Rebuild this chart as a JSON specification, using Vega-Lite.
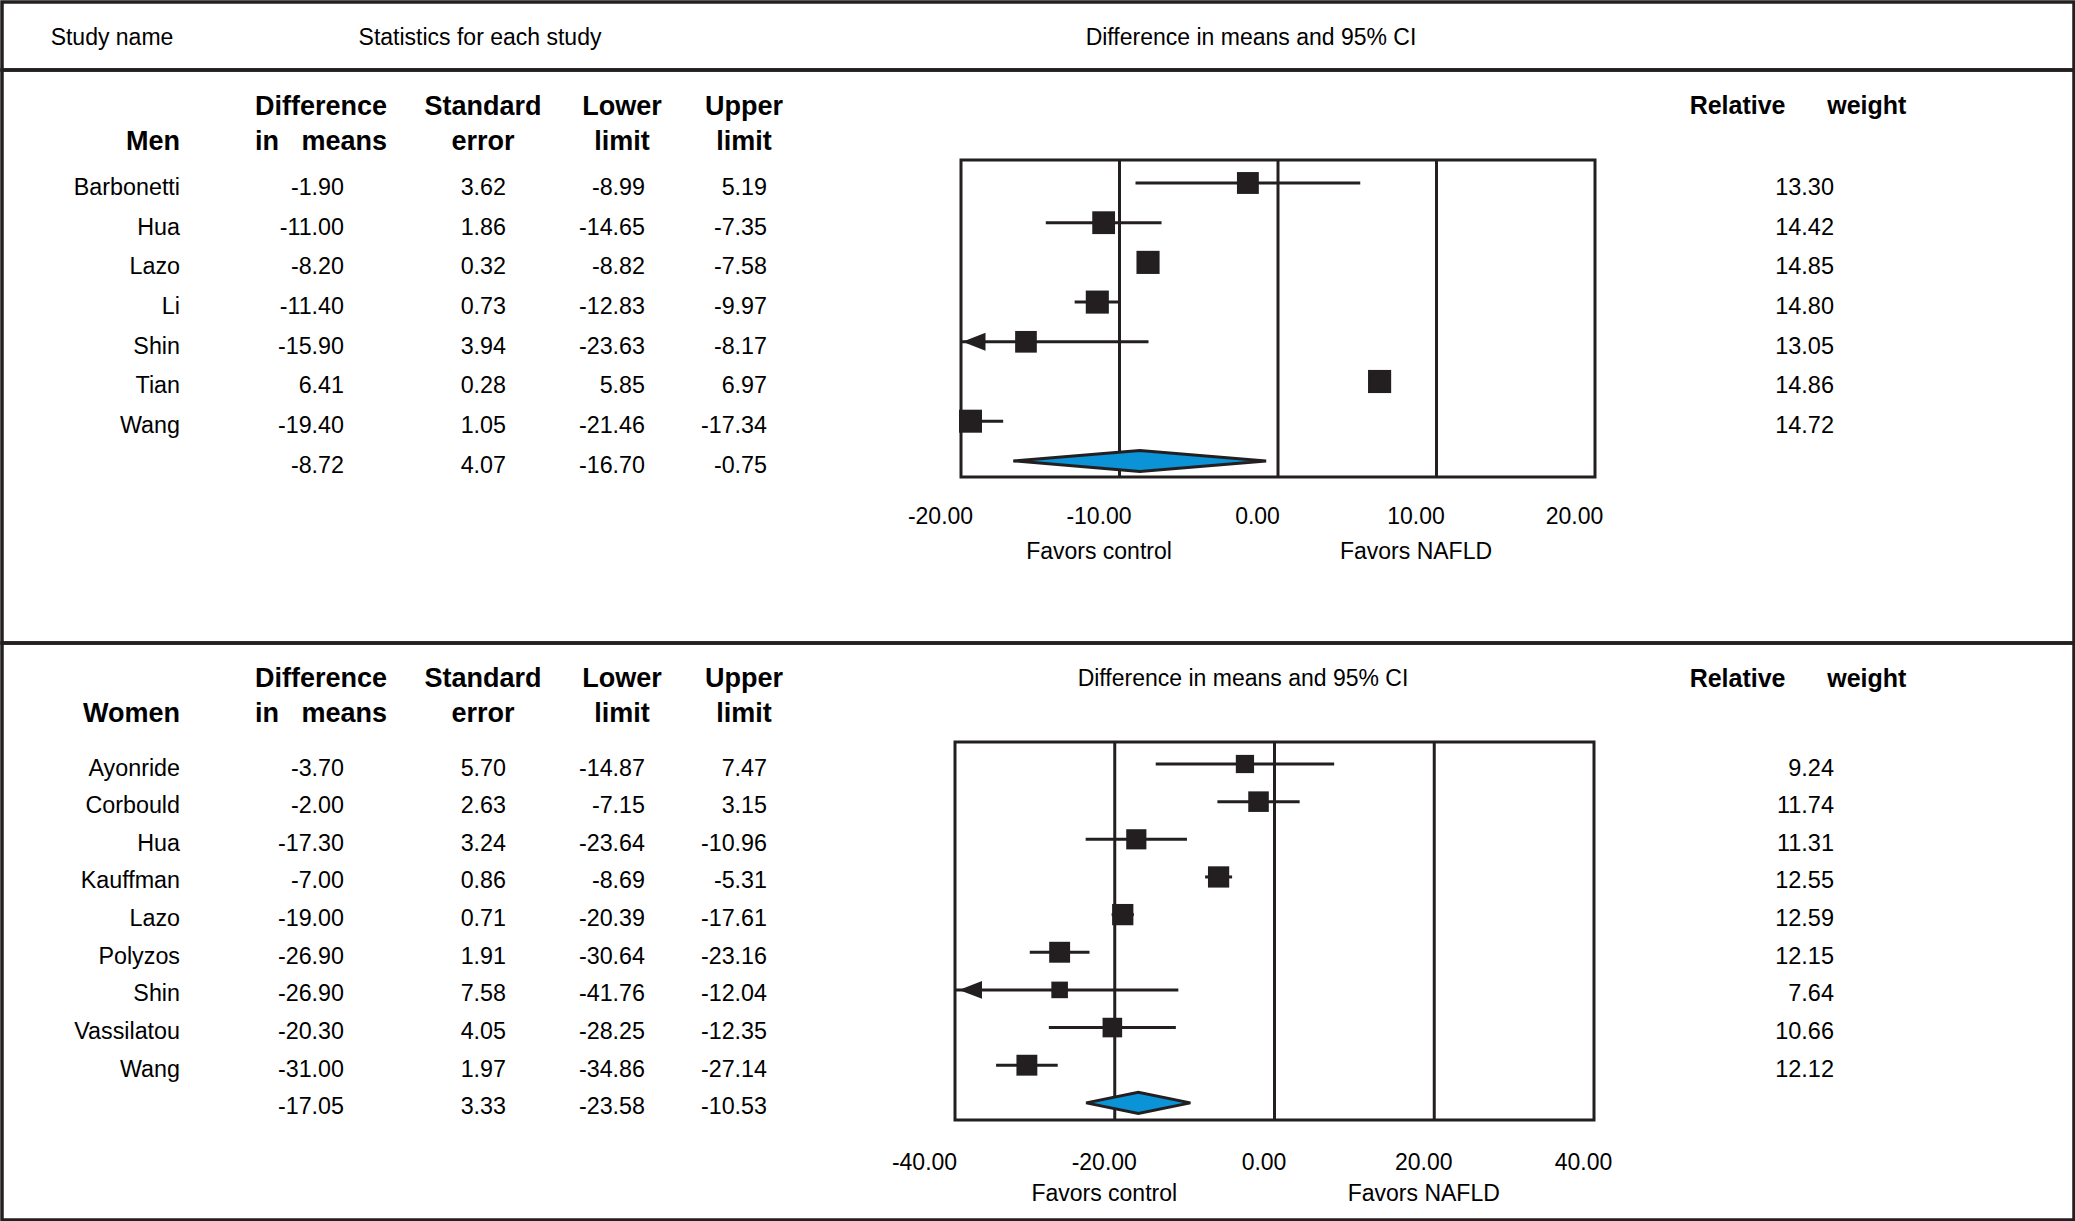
{
  "$schema": "https://vega.github.io/schema/vega-lite/v6.json",
  "padding": 0,
  "spacing": 0,
  "bounds": "flush",
  "background": "white",
  "config": {
    "view": {"stroke": "#231f20", "strokeWidth": 3.5},
    "locale": {"number": {"decimal": ".", "thousands": ",", "grouping": [3], "currency": ["$", ""], "minus": "-"}},
    "axis": {"grid": false}
  },
  "datasets": {
    "men": [
      {"study": "Barbonetti", "row": 1, "type": "study", "diff": -1.90, "se": 3.62, "lower": -8.99, "upper": 5.19, "weight": 13.30},
      {"study": "Hua", "row": 2, "type": "study", "diff": -11.00, "se": 1.86, "lower": -14.65, "upper": -7.35, "weight": 14.42},
      {"study": "Lazo", "row": 3, "type": "study", "diff": -8.20, "se": 0.32, "lower": -8.82, "upper": -7.58, "weight": 14.85},
      {"study": "Li", "row": 4, "type": "study", "diff": -11.40, "se": 0.73, "lower": -12.83, "upper": -9.97, "weight": 14.80},
      {"study": "Shin", "row": 5, "type": "study", "diff": -15.90, "se": 3.94, "lower": -23.63, "upper": -8.17, "weight": 13.05},
      {"study": "Tian", "row": 6, "type": "study", "diff": 6.41, "se": 0.28, "lower": 5.85, "upper": 6.97, "weight": 14.86},
      {"study": "Wang", "row": 7, "type": "study", "diff": -19.40, "se": 1.05, "lower": -21.46, "upper": -17.34, "weight": 14.72},
      {"study": "", "row": 8, "type": "summary", "diff": -8.72, "se": 4.07, "lower": -16.70, "upper": -0.75, "weight": null}
    ],
    "women": [
      {"study": "Ayonride", "row": 1, "type": "study", "diff": -3.70, "se": 5.70, "lower": -14.87, "upper": 7.47, "weight": 9.24},
      {"study": "Corbould", "row": 2, "type": "study", "diff": -2.00, "se": 2.63, "lower": -7.15, "upper": 3.15, "weight": 11.74},
      {"study": "Hua", "row": 3, "type": "study", "diff": -17.30, "se": 3.24, "lower": -23.64, "upper": -10.96, "weight": 11.31},
      {"study": "Kauffman", "row": 4, "type": "study", "diff": -7.00, "se": 0.86, "lower": -8.69, "upper": -5.31, "weight": 12.55},
      {"study": "Lazo", "row": 5, "type": "study", "diff": -19.00, "se": 0.71, "lower": -20.39, "upper": -17.61, "weight": 12.59},
      {"study": "Polyzos", "row": 6, "type": "study", "diff": -26.90, "se": 1.91, "lower": -30.64, "upper": -23.16, "weight": 12.15},
      {"study": "Shin", "row": 7, "type": "study", "diff": -26.90, "se": 7.58, "lower": -41.76, "upper": -12.04, "weight": 7.64},
      {"study": "Vassilatou", "row": 8, "type": "study", "diff": -20.30, "se": 4.05, "lower": -28.25, "upper": -12.35, "weight": 10.66},
      {"study": "Wang", "row": 9, "type": "study", "diff": -31.00, "se": 1.97, "lower": -34.86, "upper": -27.14, "weight": 12.12},
      {"study": "", "row": 10, "type": "summary", "diff": -17.05, "se": 3.33, "lower": -23.58, "upper": -10.53, "weight": null}
    ],
    "colhead": [
      {"col": 1, "l1": "Difference", "l2": "in\u00a0\u00a0\u00a0means"},
      {"col": 2, "l1": "Standard", "l2": "error"},
      {"col": 3, "l1": "Lower", "l2": "limit"},
      {"col": 4, "l1": "Upper", "l2": "limit"}
    ]
  },
  "vconcat": [
    {
      "width": 2072,
      "height": 68,
      "data": {"values": [
        {"c": 0, "t": "Study name"},
        {"c": 1, "t": "Statistics for each study"},
        {"c": 2, "t": "Difference in means and 95% CI"}
      ]},
      "mark": {"type": "text", "font": "Liberation Sans", "fontSize": 23, "baseline": "middle", "align": "center", "dy": 2, "color": "#000"},
      "encoding": {
        "x": {"field": "c", "type": "quantitative", "scale": {"domain": [0, 1, 2], "range": [110, 478, 1249], "zero": false, "nice": false}, "axis": null},
        "text": {"field": "t"}
      }
    },
    {
      "width": 2072,
      "height": 573,
      "data": {"name": "men"},
      "resolve": {"scale": {"x": "independent"}},
      "layer": [
        {
          "layer": [
            {
              "transform": [{"filter": "datum.type === 'study'"}],
              "mark": {"type": "text", "font": "Liberation Sans", "fontSize": 23.3, "align": "right", "baseline": "middle", "dy": 5, "color": "#000"},
              "encoding": {
                "x": {"datum": 0, "type": "quantitative", "scale": {"domain": [0, 1, 2, 3, 4, 5, 6], "range": [178, 342, 504, 643, 765, 1241, 1832], "zero": false, "nice": false}, "axis": null},
                "y": {"field": "row", "type": "quantitative", "scale": {"domain": [-1.846, 12.587], "reverse": true, "zero": false, "nice": false}, "axis": null},
                "text": {"field": "study"}
              }
            },
            {
              "mark": {"type": "text", "font": "Liberation Sans", "fontSize": 23.3, "align": "right", "baseline": "middle", "dy": 5, "color": "#000"},
              "encoding": {
                "x": {"datum": 1, "type": "quantitative", "axis": null},
                "y": {"field": "row", "type": "quantitative", "axis": null},
                "text": {"field": "diff", "type": "quantitative", "format": ".2f"}
              }
            },
            {
              "mark": {"type": "text", "font": "Liberation Sans", "fontSize": 23.3, "align": "right", "baseline": "middle", "dy": 5, "color": "#000"},
              "encoding": {
                "x": {"datum": 2, "type": "quantitative", "axis": null},
                "y": {"field": "row", "type": "quantitative", "axis": null},
                "text": {"field": "se", "type": "quantitative", "format": ".2f"}
              }
            },
            {
              "mark": {"type": "text", "font": "Liberation Sans", "fontSize": 23.3, "align": "right", "baseline": "middle", "dy": 5, "color": "#000"},
              "encoding": {
                "x": {"datum": 3, "type": "quantitative", "axis": null},
                "y": {"field": "row", "type": "quantitative", "axis": null},
                "text": {"field": "lower", "type": "quantitative", "format": ".2f"}
              }
            },
            {
              "mark": {"type": "text", "font": "Liberation Sans", "fontSize": 23.3, "align": "right", "baseline": "middle", "dy": 5, "color": "#000"},
              "encoding": {
                "x": {"datum": 4, "type": "quantitative", "axis": null},
                "y": {"field": "row", "type": "quantitative", "axis": null},
                "text": {"field": "upper", "type": "quantitative", "format": ".2f"}
              }
            },
            {
              "transform": [{"filter": "datum.type === 'study'"}],
              "mark": {"type": "text", "font": "Liberation Sans", "fontSize": 23.5, "align": "right", "baseline": "middle", "dy": 5, "color": "#000"},
              "encoding": {
                "x": {"datum": 6, "type": "quantitative", "axis": null},
                "y": {"field": "row", "type": "quantitative", "axis": null},
                "text": {"field": "weight", "type": "quantitative", "format": ".2f"}
              }
            },
            {
              "data": {"name": "colhead"},
              "mark": {"type": "text", "font": "Liberation Sans", "fontWeight": "bold", "fontSize": 27, "align": "center", "baseline": "middle", "dx": -23, "color": "#000"},
              "encoding": {
                "x": {"field": "col", "type": "quantitative", "axis": null},
                "y": {"datum": -0.92, "type": "quantitative", "axis": null},
                "text": {"field": "l1"}
              }
            },
            {
              "data": {"name": "colhead"},
              "mark": {"type": "text", "font": "Liberation Sans", "fontWeight": "bold", "fontSize": 27, "align": "center", "baseline": "middle", "dx": -23, "color": "#000"},
              "encoding": {
                "x": {"field": "col", "type": "quantitative", "axis": null},
                "y": {"datum": -0.02, "type": "quantitative", "axis": null},
                "text": {"field": "l2"}
              }
            },
            {
              "data": {"values": [{"label": "Men"}]},
              "mark": {"type": "text", "font": "Liberation Sans", "fontWeight": "bold", "fontSize": 27, "align": "right", "baseline": "middle", "color": "#000"},
              "encoding": {
                "x": {"datum": 0, "type": "quantitative", "axis": null},
                "y": {"datum": -0.02, "type": "quantitative", "axis": null},
                "text": {"field": "label"}
              }
            },
            {
              "data": {"values": [{"label": "Relative\u00a0\u00a0\u00a0\u00a0\u00a0\u00a0weight"}]},
              "mark": {"type": "text", "font": "Liberation Sans", "fontWeight": "bold", "fontSize": 25, "align": "center", "baseline": "middle", "dx": -36, "color": "#000"},
              "encoding": {
                "x": {"datum": 6, "type": "quantitative", "axis": null},
                "y": {"datum": -0.95, "type": "quantitative", "axis": null},
                "text": {"field": "label"}
              }
            }
          ]
        },
        {
          "layer": [
            {
              "data": {"values": [{}]},
              "mark": {"type": "rect", "filled": false, "color": "#231f20", "strokeWidth": 3},
              "encoding": {
                "x": {"datum": -20, "type": "quantitative", "scale": {"domain": [-20, 20], "range": [959, 1593], "zero": false, "nice": false, "clamp": true},
                  "axis": {"orient": "bottom", "offset": -166, "values": [-20, -10, 0, 10, 20], "format": ".2f",
                    "labelExpr": "datum.value === -10 ? ['-10.00', 'Favors control'] : datum.value === 10 ? ['10.00', 'Favors NAFLD'] : datum.label",
                    "labelFont": "Liberation Sans", "labelFontSize": 23, "labelColor": "#000", "labelPadding": 28, "labelOffset": -21, "labelLineHeight": 35,
                    "labelFlush": false, "labelOverlap": false, "labelBound": false, "ticks": false, "domain": false, "grid": false, "title": null}},
                "x2": {"datum": 20},
                "y": {"datum": 0.421, "type": "quantitative", "axis": null},
                "y2": {"datum": 8.406}
              }
            },
            {
              "data": {"values": [{"g": -10}, {"g": 0}, {"g": 10}]},
              "mark": {"type": "rule", "color": "#231f20", "strokeWidth": 3},
              "encoding": {
                "x": {"field": "g", "type": "quantitative", "title": null},
                "y": {"datum": 0.421, "type": "quantitative", "axis": null},
                "y2": {"datum": 8.406}
              }
            },
            {
              "transform": [{"filter": "datum.type === 'study'"}],
              "mark": {"type": "rule", "color": "#231f20", "strokeWidth": 3},
              "encoding": {
                "x": {"field": "lower", "type": "quantitative", "title": null},
                "x2": {"field": "upper"},
                "y": {"field": "row", "type": "quantitative", "axis": null}
              }
            },
            {
              "transform": [{"filter": "datum.study === 'Shin'"}],
              "mark": {"type": "point", "shape": "M-1,0L1,-0.78L1,0.78Z", "filled": true, "color": "#231f20", "opacity": 1, "size": 529, "xOffset": 13, "strokeWidth": 0},
              "encoding": {
                "x": {"datum": -20, "type": "quantitative", "title": null},
                "y": {"field": "row", "type": "quantitative", "axis": null}
              }
            },
            {
              "transform": [{"filter": "datum.type === 'study'"}],
              "mark": {"type": "point", "shape": "square", "filled": true, "color": "#231f20", "opacity": 1, "strokeWidth": 0},
              "encoding": {
                "x": {"field": "diff", "type": "quantitative", "title": null},
                "y": {"field": "row", "type": "quantitative", "axis": null},
                "size": {"field": "weight", "type": "quantitative", "scale": {"domain": [0, 15], "range": [0, 540]}, "legend": null}
              }
            },
            {
              "transform": [{"filter": "datum.type === 'summary'"}, {"fold": ["lower", "diff", "upper"], "as": ["k", "xv"]}],
              "mark": {"type": "area", "color": "#0a93d6", "stroke": "#231f20", "strokeWidth": 3, "opacity": 1,
                "yOffset": {"expr": "datum.k === 'diff' ? -10.5 : 0"}, "y2Offset": {"expr": "datum.k === 'diff' ? 10.5 : 0"}},
              "encoding": {
                "x": {"field": "xv", "type": "quantitative", "title": null},
                "y": {"field": "row", "type": "quantitative", "axis": null},
                "y2": {"field": "row"}
              }
            }
          ]
        }
      ]
    },
    {
      "width": 2072,
      "height": 577,
      "data": {"name": "women"},
      "resolve": {"scale": {"x": "independent"}},
      "layer": [
        {
          "layer": [
            {
              "transform": [{"filter": "datum.type === 'study'"}],
              "mark": {"type": "text", "font": "Liberation Sans", "fontSize": 23.3, "align": "right", "baseline": "middle", "dy": 4.5, "color": "#000"},
              "encoding": {
                "x": {"datum": 0, "type": "quantitative", "scale": {"domain": [0, 1, 2, 3, 4, 5, 6], "range": [178, 342, 504, 643, 765, 1241, 1832], "zero": false, "nice": false}, "axis": null},
                "y": {"field": "row", "type": "quantitative", "scale": {"domain": [-2.2138, 13.1114], "reverse": true, "zero": false, "nice": false}, "axis": null},
                "text": {"field": "study"}
              }
            },
            {
              "mark": {"type": "text", "font": "Liberation Sans", "fontSize": 23.3, "align": "right", "baseline": "middle", "dy": 4.5, "color": "#000"},
              "encoding": {
                "x": {"datum": 1, "type": "quantitative", "axis": null},
                "y": {"field": "row", "type": "quantitative", "axis": null},
                "text": {"field": "diff", "type": "quantitative", "format": ".2f"}
              }
            },
            {
              "mark": {"type": "text", "font": "Liberation Sans", "fontSize": 23.3, "align": "right", "baseline": "middle", "dy": 4.5, "color": "#000"},
              "encoding": {
                "x": {"datum": 2, "type": "quantitative", "axis": null},
                "y": {"field": "row", "type": "quantitative", "axis": null},
                "text": {"field": "se", "type": "quantitative", "format": ".2f"}
              }
            },
            {
              "mark": {"type": "text", "font": "Liberation Sans", "fontSize": 23.3, "align": "right", "baseline": "middle", "dy": 4.5, "color": "#000"},
              "encoding": {
                "x": {"datum": 3, "type": "quantitative", "axis": null},
                "y": {"field": "row", "type": "quantitative", "axis": null},
                "text": {"field": "lower", "type": "quantitative", "format": ".2f"}
              }
            },
            {
              "mark": {"type": "text", "font": "Liberation Sans", "fontSize": 23.3, "align": "right", "baseline": "middle", "dy": 4.5, "color": "#000"},
              "encoding": {
                "x": {"datum": 4, "type": "quantitative", "axis": null},
                "y": {"field": "row", "type": "quantitative", "axis": null},
                "text": {"field": "upper", "type": "quantitative", "format": ".2f"}
              }
            },
            {
              "transform": [{"filter": "datum.type === 'study'"}],
              "mark": {"type": "text", "font": "Liberation Sans", "fontSize": 23.5, "align": "right", "baseline": "middle", "dy": 4.5, "color": "#000"},
              "encoding": {
                "x": {"datum": 6, "type": "quantitative", "axis": null},
                "y": {"field": "row", "type": "quantitative", "axis": null},
                "text": {"field": "weight", "type": "quantitative", "format": ".2f"}
              }
            },
            {
              "data": {"name": "colhead"},
              "mark": {"type": "text", "font": "Liberation Sans", "fontWeight": "bold", "fontSize": 27, "align": "center", "baseline": "middle", "dx": -23, "color": "#000"},
              "encoding": {
                "x": {"field": "col", "type": "quantitative", "axis": null},
                "y": {"datum": -1.258, "type": "quantitative", "axis": null},
                "text": {"field": "l1"}
              }
            },
            {
              "data": {"name": "colhead"},
              "mark": {"type": "text", "font": "Liberation Sans", "fontWeight": "bold", "fontSize": 27, "align": "center", "baseline": "middle", "dx": -23, "color": "#000"},
              "encoding": {
                "x": {"field": "col", "type": "quantitative", "axis": null},
                "y": {"datum": -0.341, "type": "quantitative", "axis": null},
                "text": {"field": "l2"}
              }
            },
            {
              "data": {"values": [{"label": "Women"}]},
              "mark": {"type": "text", "font": "Liberation Sans", "fontWeight": "bold", "fontSize": 27, "align": "right", "baseline": "middle", "color": "#000"},
              "encoding": {
                "x": {"datum": 0, "type": "quantitative", "axis": null},
                "y": {"datum": -0.341, "type": "quantitative", "axis": null},
                "text": {"field": "label"}
              }
            },
            {
              "data": {"values": [{"label": "Relative\u00a0\u00a0\u00a0\u00a0\u00a0\u00a0weight"}]},
              "mark": {"type": "text", "font": "Liberation Sans", "fontWeight": "bold", "fontSize": 25, "align": "center", "baseline": "middle", "dx": -36, "color": "#000"},
              "encoding": {
                "x": {"datum": 6, "type": "quantitative", "axis": null},
                "y": {"datum": -1.258, "type": "quantitative", "axis": null},
                "text": {"field": "label"}
              }
            },
            {
              "data": {"values": [{"label": "Difference in means and 95% CI"}]},
              "mark": {"type": "text", "font": "Liberation Sans", "fontSize": 23, "align": "center", "baseline": "middle", "color": "#000"},
              "encoding": {
                "x": {"datum": 5, "type": "quantitative", "axis": null},
                "y": {"datum": -1.258, "type": "quantitative", "axis": null},
                "text": {"field": "label"}
              }
            }
          ]
        },
        {
          "layer": [
            {
              "data": {"values": [{}]},
              "mark": {"type": "rect", "filled": false, "color": "#231f20", "strokeWidth": 3},
              "encoding": {
                "x": {"datum": -40, "type": "quantitative", "scale": {"domain": [-40, 40], "range": [953, 1592], "zero": false, "nice": false, "clamp": true},
                  "axis": {"orient": "bottom", "offset": -100, "values": [-40, -20, 0, 20, 40], "format": ".2f",
                    "labelExpr": "datum.value === -20 ? ['-20.00', 'Favors control'] : datum.value === 20 ? ['20.00', 'Favors NAFLD'] : datum.label",
                    "labelFont": "Liberation Sans", "labelFontSize": 23, "labelColor": "#000", "labelPadding": 31,
                    "labelOffset": {"condition": {"test": "datum.value === -40", "value": -31}, "value": -11},
                    "labelLineHeight": 31,
                    "labelFlush": false, "labelOverlap": false, "labelBound": false, "ticks": false, "domain": false, "grid": false, "title": null}},
                "x2": {"datum": 40},
                "y": {"datum": 0.4157, "type": "quantitative", "axis": null},
                "y2": {"datum": 10.4555}
              }
            },
            {
              "data": {"values": [{"g": -20}, {"g": 0}, {"g": 20}]},
              "mark": {"type": "rule", "color": "#231f20", "strokeWidth": 3},
              "encoding": {
                "x": {"field": "g", "type": "quantitative", "title": null},
                "y": {"datum": 0.4157, "type": "quantitative", "axis": null},
                "y2": {"datum": 10.4555}
              }
            },
            {
              "transform": [{"filter": "datum.type === 'study'"}],
              "mark": {"type": "rule", "color": "#231f20", "strokeWidth": 3},
              "encoding": {
                "x": {"field": "lower", "type": "quantitative", "title": null},
                "x2": {"field": "upper"},
                "y": {"field": "row", "type": "quantitative", "axis": null}
              }
            },
            {
              "transform": [{"filter": "datum.study === 'Shin'"}],
              "mark": {"type": "point", "shape": "M-1,0L1,-0.78L1,0.78Z", "filled": true, "color": "#231f20", "opacity": 1, "size": 529, "xOffset": 15.5, "strokeWidth": 0},
              "encoding": {
                "x": {"datum": -40, "type": "quantitative", "title": null},
                "y": {"field": "row", "type": "quantitative", "axis": null}
              }
            },
            {
              "transform": [{"filter": "datum.type === 'study'"}],
              "mark": {"type": "point", "shape": "square", "filled": true, "color": "#231f20", "opacity": 1, "strokeWidth": 0},
              "encoding": {
                "x": {"field": "diff", "type": "quantitative", "title": null},
                "y": {"field": "row", "type": "quantitative", "axis": null},
                "size": {"field": "weight", "type": "quantitative", "scale": {"domain": [0, 15], "range": [0, 540]}, "legend": null}
              }
            },
            {
              "transform": [{"filter": "datum.type === 'summary'"}, {"fold": ["lower", "diff", "upper"], "as": ["k", "xv"]}],
              "mark": {"type": "area", "color": "#0a93d6", "stroke": "#231f20", "strokeWidth": 3, "opacity": 1,
                "yOffset": {"expr": "datum.k === 'diff' ? -10.5 : 0"}, "y2Offset": {"expr": "datum.k === 'diff' ? 10.5 : 0"}},
              "encoding": {
                "x": {"field": "xv", "type": "quantitative", "title": null},
                "y": {"field": "row", "type": "quantitative", "axis": null},
                "y2": {"field": "row"}
              }
            }
          ]
        }
      ]
    }
  ]
}
